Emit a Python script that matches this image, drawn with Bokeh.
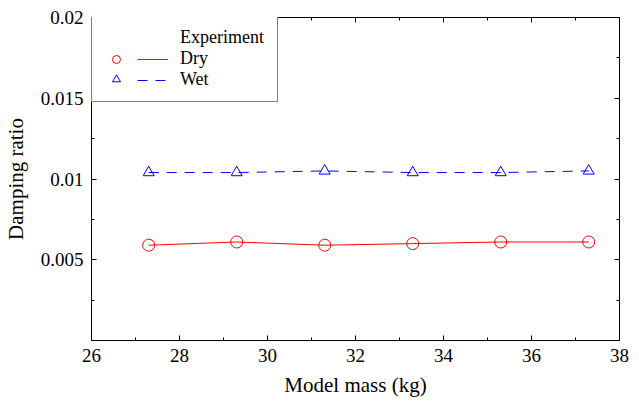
from bokeh.plotting import figure
from bokeh.models import FixedTicker, LinearAxis, Range1d, Legend, LegendItem
from bokeh.embed import file_html
from bokeh.resources import INLINE

mass = [27.3, 29.3, 31.3, 33.3, 35.3, 37.3]
dry = [0.0059, 0.0061, 0.0059, 0.0060, 0.0061, 0.0061]
wet = [0.0104, 0.0104, 0.0105, 0.0104, 0.0104, 0.0105]

x_ticks = [26, 28, 30, 32, 34, 36, 38]
x_minor = [27, 29, 31, 33, 35, 37]
y_ticks = [0.005, 0.01, 0.015, 0.02]
y_tick_labels = ["0.005", "0.01", "0.015", "0.02"]
y_minor = [0.0025, 0.0075, 0.0125, 0.0175]

FONT = "'Liberation Serif', serif"

p = figure(width=630, height=399, output_backend="svg", toolbar_location=None,
           x_range=Range1d(26, 38), y_range=Range1d(0, 0.02),
           min_border_left=83, min_border_right=11, min_border_top=17, min_border_bottom=59)
p.grid.visible = False
p.outline_line_color = "black"
p.outline_line_width = 1
p.background_fill_color = "white"

xt = FixedTicker(ticks=x_ticks, minor_ticks=x_minor)
yt = FixedTicker(ticks=y_ticks, minor_ticks=y_minor)
p.xaxis.ticker = xt
p.yaxis.ticker = yt
p.yaxis.major_label_overrides = {t: s for t, s in zip(y_ticks, y_tick_labels)}

for ax in [p.xaxis[0], p.yaxis[0]]:
    ax.major_tick_in = 5
    ax.major_tick_out = 0
    ax.minor_tick_in = 3
    ax.minor_tick_out = 0
    ax.axis_line_color = "black"
    ax.major_tick_line_color = "black"
    ax.minor_tick_line_color = "black"
    ax.major_label_text_font = FONT
    ax.major_label_text_font_size = "19px"
    ax.major_label_text_color = "black"
    ax.axis_label_text_font = FONT
    ax.axis_label_text_font_size = "21px"
    ax.axis_label_text_font_style = "normal"
    ax.axis_label_text_color = "black"
    ax.major_label_standoff = 8

p.xaxis.axis_label = "Model mass (kg)"
p.yaxis.axis_label = "Damping ratio"
p.yaxis.axis_label_standoff = 10
p.xaxis.axis_label_standoff = 8

# mirrored ticks on right and top
for side, ticker in [("right", yt), ("above", xt)]:
    ax = LinearAxis(ticker=ticker)
    ax.major_label_text_font_size = "0px"
    ax.major_label_text_alpha = 0
    ax.major_tick_in = 5
    ax.major_tick_out = 0
    ax.minor_tick_in = 3
    ax.minor_tick_out = 0
    ax.major_label_standoff = 0
    p.add_layout(ax, side)

r1l = p.line(mass, dry, line_color="#ff0000", line_width=1)
r1m = p.scatter(mass, dry, marker="circle", size=12, fill_color=None, line_color="#ff0000", line_width=1)
r2l = p.line(mass, wet, line_color="#0000ff", line_width=1, line_dash="10 8")
r2m = p.scatter(mass, wet, marker="triangle", size=11, fill_color=None, line_color="#0000ff", line_width=1)
blank = p.line([], [], line_alpha=0)

PAD = 12
ROW = 20
LEG_Y = 238


def style(lg):
    lg.label_text_font = FONT
    lg.label_text_font_size = "18px"
    lg.label_text_color = "black"
    lg.glyph_height = ROW
    lg.label_height = ROW
    lg.spacing = 0
    lg.padding = PAD
    lg.margin = 0


# boxed legend holding the markers
leg_a = Legend(items=[LegendItem(label=" ", renderers=[blank]),
                      LegendItem(label=" ", renderers=[r1m]),
                      LegendItem(label=" ", renderers=[r2m])],
               location=(0, LEG_Y))
style(leg_a)
leg_a.glyph_width = 24
leg_a.label_standoff = 7
leg_a.label_width = 130
leg_a.border_line_color = "black"
leg_a.border_line_width = 1
leg_a.background_fill_color = "white"
leg_a.background_fill_alpha = 1
p.add_layout(leg_a, "center")

# transparent legend holding the lines and labels
leg_b = Legend(items=[LegendItem(label="Experiment", renderers=[blank]),
                      LegendItem(label="Dry", renderers=[r1l]),
                      LegendItem(label="Wet", renderers=[r2l])],
               location=(34, LEG_Y))
style(leg_b)
leg_b.glyph_width = 31
leg_b.label_standoff = 12
leg_b.border_line_alpha = 0
leg_b.background_fill_alpha = 0
p.add_layout(leg_b, "center")

open("out.html", "w").write(file_html(p, INLINE))
